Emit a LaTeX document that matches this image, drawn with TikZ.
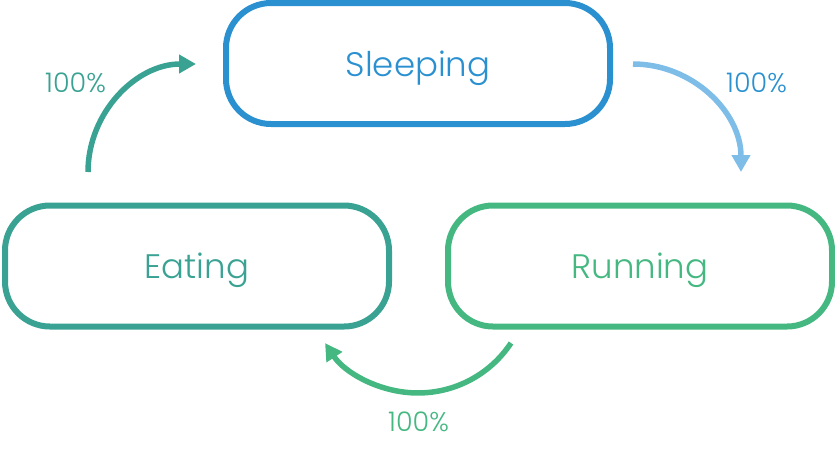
\documentclass[tikz,border=0pt]{standalone}
\usepackage{fontspec}
\setmainfont{Poppins}[UprightFont=* Light]
\usetikzlibrary{arrows.meta}
\definecolor{cblue}{HTML}{2A90D0}
\definecolor{cteal}{HTML}{3AA293}
\definecolor{cgreen}{HTML}{45B882}
\definecolor{clight}{HTML}{7DBDE8}
\begin{document}
\begin{tikzpicture}[x=1pt,y=-1pt,
  state/.style={draw, line width=6pt, rounded corners=45pt, minimum width=384pt, minimum height=121pt, inner sep=0pt, font=\fontsize{34}{40}\selectfont, text height=23.7pt, text depth=0pt},
  flow/.style={line width=5.5pt, -{Triangle[length=17pt,width=18pt]}},
  pct/.style={font=\fontsize{27}{30}\selectfont, text height=19pt, text depth=0pt, inner sep=0pt}]
\useasboundingbox (0,0) rectangle (835,459);
\node[state, draw=cblue] (sleep) at (418,63.5) {};
\node[state, draw=cteal] (eat) at (197,266) {};
\node[state, draw=cgreen] (run) at (640,266) {};
\node[state, draw=none, text=cblue, yshift=-1.5pt] at (sleep.center) {Sleeping};
\node[state, draw=none, text=cteal, yshift=-1pt] at (eat.center) {Eating};
\node[state, draw=none, text=cgreen, yshift=-1pt] at (run.center) {Running};
\coordinate (l1) at (88,172);
\coordinate (r1) at (633,64);
\coordinate (b1) at (511,343);
\draw[flow, cteal] (l1) arc[start angle=180, end angle=270, radius=108];
\draw[flow, clight] (r1) arc[start angle=270, end angle=360, radius=108];
\draw[flow, cgreen] (b1) arc[start angle=33.5, end angle=146.5, radius=111.5];
\node[pct, text=cteal] (pl) at (75.5,82.5) {100\%};
\node[pct, text=cblue] (pr) at (756.5,82.5) {100\%};
\node[pct, text=cgreen] (pb) at (418.5,421.5) {100\%};
\end{tikzpicture}
\end{document}
